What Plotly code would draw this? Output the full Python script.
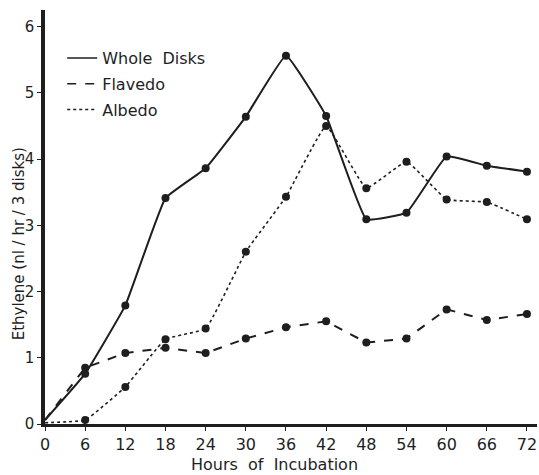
import plotly.graph_objects as go

# Incubation time (hours) and ethylene production (nl / hr / 3 disks)
hours = [0, 6, 12, 18, 24, 30, 36, 42, 48, 54, 60, 66, 72]
whole_disks = [0.06, 0.76, 1.79, 3.41, 3.86, 4.64, 5.56, 4.65, 3.09, 3.19, 4.04, 3.90, 3.81]
flavedo = [0.06, 0.85, 1.07, 1.15, 1.07, 1.29, 1.46, 1.55, 1.23, 1.29, 1.73, 1.57, 1.66]
albedo = [0.02, 0.06, 0.56, 1.28, 1.44, 2.60, 3.43, 4.50, 3.56, 3.96, 3.39, 3.35, 3.09]

x_ticks = [0, 6, 12, 18, 24, 30, 36, 42, 48, 54, 60, 66, 72]
y_ticks = [0, 1, 2, 3, 4, 5, 6]

INK = "#1e1e1e"
FONT = "DejaVu Sans, Liberation Sans, Arial, sans-serif"

series = [
    ("Whole  Disks", whole_disks, "solid", 2.0, "spline"),
    ("Flavedo", flavedo, "dash", 2.0, "linear"),
    ("Albedo", albedo, "dot", 1.6, "spline"),
]

fig = go.Figure()

for name, values, dash, width, shape in series:
    # curve from the origin (no marker at t = 0)
    fig.add_trace(go.Scatter(
        x=hours, y=values, mode="lines",
        line=dict(color=INK, width=width, dash=dash, shape=shape, smoothing=0.3),
        showlegend=False, hoverinfo="skip",
    ))
    # measured points
    fig.add_trace(go.Scatter(
        x=hours[1:], y=values[1:], mode="markers",
        marker=dict(color=INK, size=8),
        showlegend=False, name=name,
    ))
    # legend entry shows the line style only
    fig.add_trace(go.Scatter(
        x=[None], y=[None], mode="lines", name=name, legendgroup=name,
        line=dict(color=INK, width=1.4, dash=dash),
    ))

fig.update_layout(
    width=539, height=475,
    margin=dict(l=45, r=2, t=10, b=51),
    paper_bgcolor="white", plot_bgcolor="white",
    font=dict(family=FONT, color=INK, size=14),
    legend=dict(
        x=0.035, y=0.925, xanchor="left", yanchor="top",
        bgcolor="rgba(0,0,0,0)", font=dict(size=16, family=FONT),
        itemwidth=30, tracegroupgap=2,
    ),
    annotations=[
        dict(
            text="Ethylene (nl / hr / 3 disks)", textangle=-90,
            xref="paper", yref="paper", x=-0.054, y=0.435,
            xanchor="center", yanchor="middle", showarrow=False,
            font=dict(size=15, family=FONT, color=INK),
        ),
        dict(
            text="Hours  of  Incubation",
            xref="paper", yref="paper", x=0.467, y=-0.097,
            xanchor="center", yanchor="middle", showarrow=False,
            font=dict(size=16, family=FONT, color=INK),
        ),
    ],
)

fig.update_xaxes(
    range=[0, 73.5], tickvals=x_ticks, ticktext=[str(v) for v in x_ticks],
    showgrid=False, zeroline=False,
    showline=True, linecolor=INK, linewidth=3,
    ticks="outside", ticklen=4, tickcolor=INK,
    tickfont=dict(size=16, family=FONT),
)
fig.update_yaxes(
    range=[0, 6.25], tickvals=y_ticks,
    showgrid=False, zeroline=False,
    showline=True, linecolor=INK, linewidth=3.5,
    ticks="outside", ticklen=4, tickcolor=INK,
    tickfont=dict(size=15, family=FONT),
)

fig.write_html("out.html")
